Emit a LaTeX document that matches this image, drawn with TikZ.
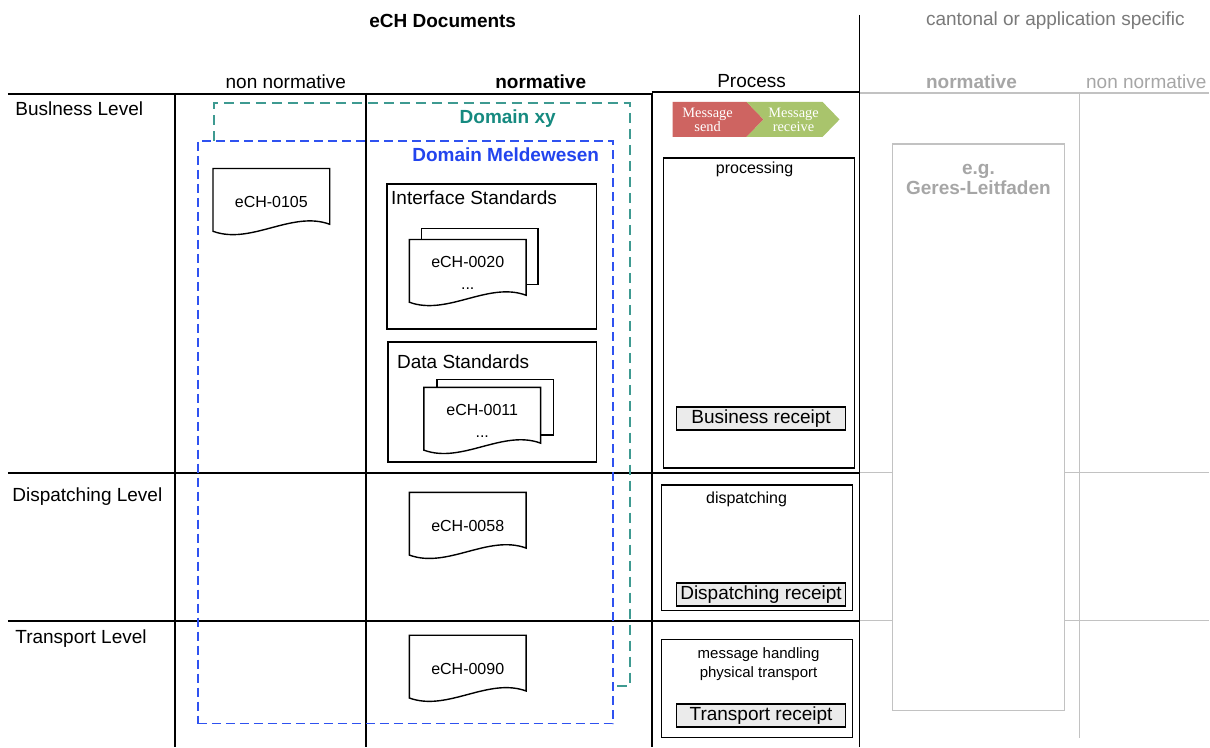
\documentclass[tikz,border=0pt]{standalone}
\usepackage{fontspec}
\setmainfont{Liberation Sans}
\newfontfamily\chevronfont{Liberation Serif}
\usetikzlibrary{positioning,fit,backgrounds}
\definecolor{domxy}{HTML}{168A80}
\definecolor{domxyline}{HTML}{3E9A91}
\definecolor{meld}{HTML}{2244EE}
\definecolor{meldline}{HTML}{2F52F0}
\definecolor{sendred}{HTML}{CE6461}
\definecolor{recvgreen}{HTML}{A9C46C}
\definecolor{paleline}{HTML}{C2C2C2}
\definecolor{paletext}{HTML}{A6A6A6}
\definecolor{midtext}{HTML}{7A7A7A}
\definecolor{receiptfill}{HTML}{EBEBEB}

\begin{document}
\begin{tikzpicture}[x=0.5pt,y=-0.5pt,
	txt/.style={inner sep=0pt,font=\fontsize{9.5}{11}\selectfont},
	bold/.style={inner sep=0pt,font=\fontsize{9.5}{11}\selectfont\bfseries},
	small/.style={inner sep=0pt,align=center,font=\fontsize{8}{11}\selectfont},
	gridline/.style={line width=0.9pt},
	greyline/.style={draw=paleline,line width=0.7pt},
	frame/.style={draw,line width=0.8pt,inner sep=0pt},
	receipt/.style={draw,line width=0.8pt,fill=receiptfill,inner sep=0pt,
		minimum width=84.5pt,minimum height=11.5pt,font=\fontsize{9.5}{11}\selectfont},
	docsheet/.style={small,minimum width=58pt,minimum height=33pt},
	docline/.style={line width=0.7pt,fill=white},
	chevron/.style={inner sep=0pt,align=center,text=white,
		font=\chevronfont\fontsize{7.2}{7.2}\selectfont}]

	\begin{scope}[on background layer]
	\path[use as bounding box,fill=white] (0,0) rectangle (1210,747);
	\end{scope}

	% headings
	\node[bold] (ech) at (443,21) {eCH Documents};
	\node[txt,text=midtext] (canton) at (1056,21) {cantonal or application specific};
	\node[txt] (nonnorm) at (286,82) {non normative};
	\node[bold] (norm) at (541,82) {normative};
	\node[txt] (process) at (752,81) {Process};
	\node[bold,text=paletext] (cnorm) at (972,82) {normative};
	\node[txt,text=paletext] (cnonnorm) at (1147,82) {non normative};

	% grid
	\draw[gridline] (8,94) -- (652,94);
	\draw[gridline] (652,92) -- (860,92);
	\draw[greyline] (860,93) -- (1210,93);
	\draw[gridline] (860,15) -- (860,747);
	\foreach \x in {175,366,652}
		\draw[gridline] (\x,93) -- (\x,747);
	\foreach \y in {473,621}{
		\draw[gridline] (8,\y) -- (860,\y);
		\draw[greyline] (860,\y) -- (1210,\y);
	}
	\draw[greyline] (1080,93) -- (1080,738);

	% levels
	\node[txt,anchor=west] (busl) at (15,109) {Buslness Level};
	\node[txt,anchor=west] (displ) at (12,497) {Dispatching Level};
	\node[txt,anchor=west] (transl) at (15,639) {Transport Level};

	% domains
	\draw[domxyline,line width=0.9pt,dash pattern=on 5pt off 3pt]
		(214,141) -- (214,103) -- (630,103) -- (630,686) -- (613,686);
	\node[bold,text=domxy] (domxy) at (508,119) {Domain xy};
	\node[draw=meldline,line width=0.9pt,dash pattern=on 4.5pt off 2.5pt,inner sep=0pt,
		fit={(198,141) (613,724)}] (meldewesen) {};
	\node[bold,text=meld] (meldlbl) at (506,155) {Domain Meldewesen};

	% standards
	\node[frame,fit={(387,184) (597,329)}] (iface) {};
	\node[txt,anchor=west] (ifacelbl) at (391,198) {Interface Standards};
	\node[frame,fit={(388,342) (597,462)}] (data) {};
	\node[txt,anchor=west] (datalbl) at (397,362) {Data Standards};

	\node[docsheet] (d105) at (271.5,202) {eCH-0105};
	\node[docsheet] (d20) at (468,273) {eCH-0020\\...};
	\node[docsheet] (d11) at (482.5,421) {eCH-0011\\...};
	\node[docsheet] (d58) at (468,526) {eCH-0058};
	\node[docsheet] (d90) at (468,669) {eCH-0090};

	\begin{scope}[on background layer]
	\foreach \n/\dx/\dy in {d20/6pt/5.5pt,d11/6.5pt/4pt}
		\draw[docline] ([xshift=\dx,yshift=\dy]\n.north west)
			rectangle ([xshift=\dx,yshift=\dy+5.5pt]\n.south east);
	\foreach \n in {d105,d20,d11,d58,d90}
		\draw[docline] (\n.north west) -- (\n.north east) -- ([yshift=5.5pt]\n.south east)
			.. controls +(-19pt,7pt) and +(19pt,-7pt) .. ([yshift=2pt]\n.south west) -- cycle;
	\end{scope}

	% process
	\fill[sendred] (673,102) -- (747,102) -- (764,119.5) -- (747,137) -- (673,137) -- cycle;
	\fill[recvgreen] (747,102) -- (823,102) -- (840,119.5) -- (823,137) -- (747,137)
		-- (764,119.5) -- cycle;
	\node[chevron] (send) at (708,120) {Message\\send};
	\node[chevron] (receive) at (794,120) {Message\\receive};

	\node[frame,fit={(664,158) (855,468)}] (proc) {};
	\node[small] (proclbl) at (755,169) {processing};
	\node[receipt] (brec) at (761.5,418.5) {Business receipt};

	\node[frame,fit={(662,485) (853,611)}] (disp) {};
	\node[small] (displbl) at (747,500) {dispatching};
	\node[receipt] (drec) at (761.5,595) {Dispatching receipt};

	\node[frame,fit={(662,640) (853,738)}] (trans) {};
	\node[small,font=\fontsize{7.5}{9.5}\selectfont] (translbl) at (759,665)
		{message handling\\physical transport};
	\node[receipt] (trec) at (761.5,716) {Transport receipt};

	% cantonal
	\node[draw=paleline,line width=0.7pt,fill=white,inner sep=0pt,
		fit={(893,144) (1065,711)}] (geres) {};
	\node[bold,text=paletext,align=center,font=\fontsize{9.5}{10}\selectfont\bfseries]
		(gereslbl) at (979,180) {e.g.\\Geres-Leitfaden};
\end{tikzpicture}
\end{document}
